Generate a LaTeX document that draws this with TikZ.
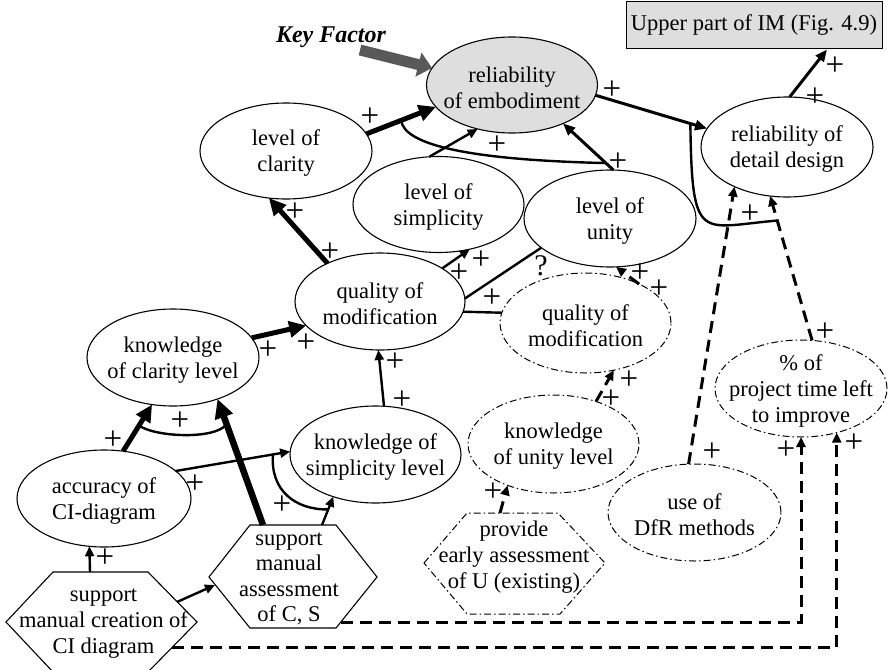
\documentclass[tikz,border=0pt]{standalone}
\usepackage{fontspec}
\setmainfont{Liberation Serif}
\usetikzlibrary{arrows.meta,calc,shapes.geometric}
\begin{document}
\begin{tikzpicture}[x=1pt,y=-1pt,
  ell/.style={draw, ellipse, line width=1.1pt, inner sep=0pt, outer sep=0pt},
  ddell/.style={draw, ellipse, line width=1pt, inner sep=0pt, outer sep=0pt, dash pattern=on 7pt off 3pt on 1.5pt off 3pt},
  txt/.style={align=center, inner sep=0pt, font=\fontsize{22.5}{26}\selectfont},
  plus/.style={inner sep=0pt, font=\fontsize{33}{33}\selectfont},
  thinar/.style={line width=2.4pt, -{Triangle[length=10pt,width=9pt]}},
  midar/.style={line width=3pt, -{Triangle[length=12pt,width=10pt]}},
  thickar/.style={line width=5pt, -{Triangle[length=17pt,width=16pt]}},
  vthickar/.style={line width=6.5pt, -{Triangle[length=19pt,width=18pt]}},
  dashar/.style={line width=3pt, dash pattern=on 12pt off 7pt, -{Triangle[length=10pt,width=9pt]}},
  arcline/.style={line width=2.4pt},
  hexline/.style={line width=1.1pt, line join=miter},
  ddhex/.style={line width=1pt, dash pattern=on 7pt off 3pt on 1.5pt off 3pt},
]
\useasboundingbox (0,0) rectangle (888,669);

% ---------- ellipses ----------
\node[ell, fill=black!13, minimum width=171pt, minimum height=96pt] (emb) at (512,85) {};
\node[txt] (embT) at (512,87.5) {reliability\\of embodiment};

\node[ell, minimum width=172pt, minimum height=96pt] (clar) at (286,151) {};
\node[txt] (clarT) at (286,153.5) {level of\\clarity};

\node[ell, minimum width=171pt, minimum height=96pt] (simp) at (438.5,204.5) {};
\node[txt] (simpT) at (438.5,207) {level of\\simplicity};

\node[ell, minimum width=172pt, minimum height=97pt] (unity) at (610,218.5) {};
\node[txt] (unityT) at (610,221) {level of\\unity};

\node[ell, minimum width=170pt, minimum height=97pt] (qm) at (380,301.5) {};
\node[txt] (qmT) at (380,303.5) {quality of\\modification};

\node[ddell, minimum width=171pt, minimum height=100pt] (qm2) at (585.5,323) {};
\node[txt] (qm2T) at (585.5,325.5) {quality of\\modification};

\node[ell, minimum width=172pt, minimum height=100pt] (det) at (787,147) {};
\node[txt] (detT) at (787,149) {reliability of\\detail design};

\node[ell, minimum width=172pt, minimum height=97pt] (kcl) at (173,357.5) {};
\node[txt] (kclT) at (173,360) {knowledge\\of clarity level};

\node[ell, minimum width=171pt, minimum height=97pt] (ksl) at (375.5,454.5) {};
\node[txt] (kslT) at (375.5,457) {knowledge of\\simplicity level};

\node[ddell, minimum width=171pt, minimum height=98pt] (kul) at (553.5,444) {};
\node[txt] (kulT) at (553.5,446.5) {knowledge\\of unity level};

\node[ell, minimum width=174pt, minimum height=97pt] (acc) at (104,498.5) {};
\node[txt] (accT) at (104,501) {accuracy of\\CI-diagram};

\node[ddell, minimum width=172pt, minimum height=97pt] (pct) at (801,388.5) {};
\node[txt] (pctT) at (801,391) {\% of\\project time left\\to improve};

\node[ddell, minimum width=173pt, minimum height=97pt] (dfr) at (694.5,512.5) {};
\node[txt] (dfrT) at (694.5,515) {use of\\DfR methods};

% ---------- box ----------
\node[txt, draw, fill=black!13, line width=1pt, minimum width=256pt, minimum height=47pt] (upIM) at (754,25.5) {Upper part of IM (Fig. 4.9)};
\coordinate (upA) at ([xshift=73pt]upIM.south);

% ---------- hexagons ----------
\draw[hexline] (6,622) -- (53,572) -- (148,572) -- (197,622) -- (148,672) -- (53,672) -- cycle;
\node[txt] (h1T) at (103.5,624) {support\\manual creation of\\CI diagram};
\coordinate (h1a) at (90,572);
\coordinate (h1b) at (177,602);
\coordinate (h1d) at (172,647);

\draw[hexline] (209,577) -- (250,525) -- (336,525) -- (377,577) -- (336,628) -- (250,628) -- cycle;
\node[txt, font=\fontsize{22.5}{25.5}\selectfont] (h2T) at (289,579) {support\\manual\\assessment\\of C, S};
\coordinate (h2a) at (263,525);
\coordinate (h2b) at (322,525);
\coordinate (h2l) at (215,585);
\coordinate (h2d) at (341,622);

\draw[ddhex] (424,563) -- (467,513) -- (558,513) -- (605,563) -- (560,614) -- (467,614) -- cycle;
\node[txt] (h3T) at (514,557) {provide\\early assessment\\of U (existing)};
\coordinate (h3a) at (500,513);

% ---------- key factor ----------
\node[inner sep=0pt, anchor=base, font=\fontsize{24}{26}\selectfont\bfseries\itshape] (kf) at (331,43) {Key Factor};
\coordinate (kfa) at (360,50);
\draw[line width=11pt, black!65, -{Triangle[length=14pt,width=24pt]}] (kfa) -- (emb.168.3);

% ---------- connectors ----------
\draw[thickar] (clar.12.7) -- coordinate[pos=0.5] (e1m) (emb.196.8);
\draw[thinar] (simp.101.8) -- (emb.232.9);
\draw[midar] (unity.86.4) -- coordinate[pos=0.15] (e3m) (emb.323.8);
\draw[arcline] (e1m) .. controls (404,145) and (470,160) .. (e3m);

\draw[midar] (emb.353.4) -- coordinate[pos=0.85] (e4m) (det.167);
\draw[midar] (det.87) -- (upA);

\draw[thickar] (qm.144.2) -- (clar.250.5);
\draw[thinar] (qm.28.4) -- (simp.305.4);
\draw[line width=2.4pt] (qm.2) -- (unity.203.2);
\draw[line width=2.4pt] (qm.353.3) -- (qm2.173.1);
\draw[dashar] (qm2.36.7) -- (unity.277);

\draw[thickar] (kcl.14.6) -- (qm.198.9);
\draw[thinar] (ksl.80) -- (qm.268);
\draw[dashar] (kul.45) -- (qm2.301.3);
\draw[dashar] (h3a) -- (kul.222.2);

\draw[thickar] (acc.68.2) -- coordinate[pos=0.55] (e15m) (kcl.246.8);
\draw[vthickar] (h2a) -- coordinate[pos=0.8] (e16m) (kcl.317.5);
\draw[arcline] (e15m) .. controls (155,437) and (215,440) .. (e16m);

\draw[thinar] (acc.21) -- coordinate[pos=0.85] (e17m) (ksl.178.3);
\draw[thinar] (h2b) -- coordinate[pos=0.55] (e18m) (ksl.225.7);
\draw[arcline] (e17m) .. controls (270,490) and (295,510) .. (e18m);

\draw[thinar] (h1a) -- (acc.253.7);
\draw[thinar] (h1b) -- (h2l);

\draw[dashar] (h2d) -| (pct.south);
\draw[dashar] (h1d) -| (pct.309.5);

\draw[dashar] (dfr.97.3) -- (det.217.4);
\draw[dashar] (pct.77.1) -- coordinate[pos=0.83] (pm) (det.251.6);
\draw[arcline] (e4m) .. controls (692,245) and (700,227) .. (pm);

% ---------- labels ----------
\node[plus] (p1) at (370,117) {+};
\node[plus] (p2) at (497,145) {+};
\node[plus] (p3) at (618,162) {+};
\node[plus] (p4) at (612,90) {+};
\node[plus] (p5) at (835,66) {+};
\node[plus] (p6) at (815,97) {+};
\node[plus] (p7) at (750,214) {+};
\node[plus] (p8) at (295,212) {+};
\node[plus] (p9) at (330,252) {+};
\node[plus] (p10) at (459,273) {+};
\node[plus] (p11) at (481,260) {+};
\node[plus, font=\fontsize{30}{30}\selectfont] (q1) at (541,266) {?};
\node[plus] (p12) at (492,298) {+};
\node[plus] (p13) at (640,273) {+};
\node[plus] (p14) at (659,289) {+};
\node[plus] (p15) at (268,350) {+};
\node[plus] (p16) at (306,343) {+};
\node[plus] (p17) at (395,362) {+};
\node[plus] (p18) at (402,400) {+};
\node[plus] (p19) at (629,380) {+};
\node[plus] (p20) at (611,399) {+};
\node[plus] (p21) at (493,492) {+};
\node[plus] (p22) at (113,440) {+};
\node[plus] (p23) at (180,421) {+};
\node[plus] (p24) at (195,484) {+};
\node[plus] (p25) at (282,505) {+};
\node[plus] (p26) at (105,558) {+};
\node[plus] (p27) at (712,452) {+};
\node[plus] (p28) at (825,332) {+};
\node[plus] (p29) at (786,450) {+};
\node[plus] (p30) at (854,443) {+};
\end{tikzpicture}
\end{document}
